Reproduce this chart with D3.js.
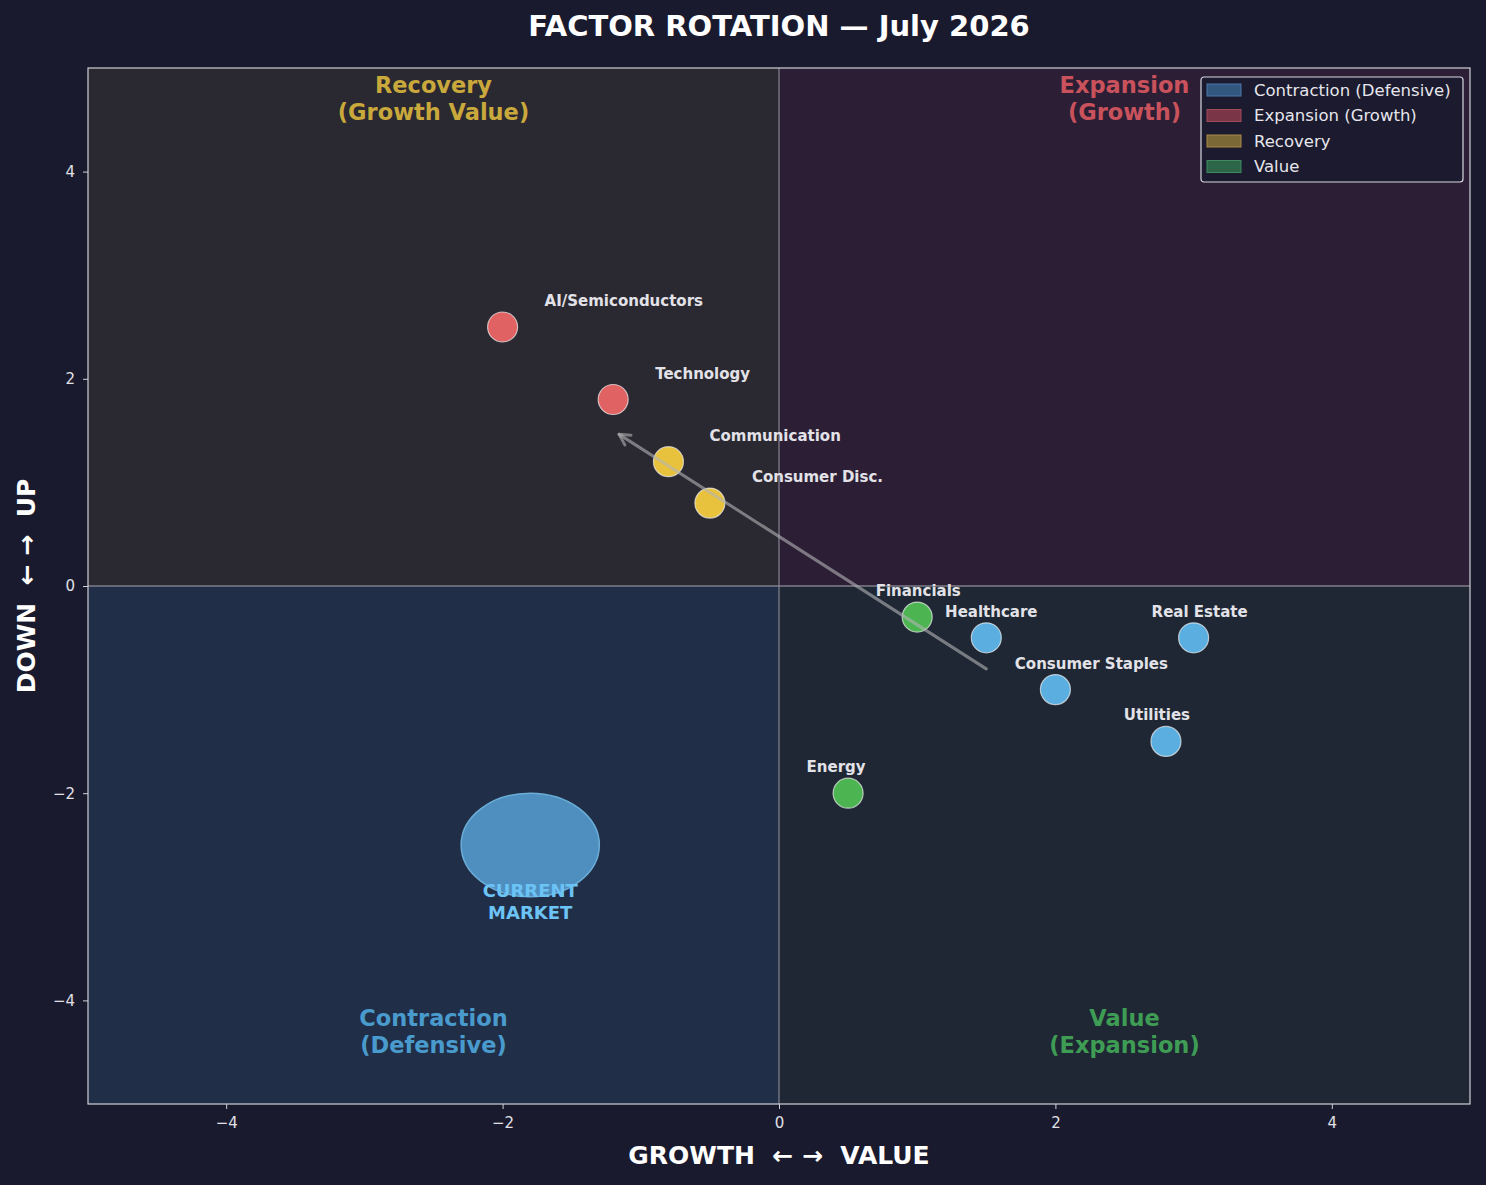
<!DOCTYPE html>
<html>
<head>
<meta charset="utf-8">
<script src="https://cdn.jsdelivr.net/npm/d3@7"></script>
<style>
  body { margin: 0; background: #1a1a2e; }
  svg { display: block; font-family: "DejaVu Sans", sans-serif; }
  .pre { white-space: pre; }
</style>
</head>
<body>
<div id="chart"></div>
<script>
// sector positions on the rotation map
const sectors = ['AI/Semiconductors', 'Technology', 'Communication', 'Consumer Disc.',
  'Financials', 'Healthcare', 'Real Estate', 'Consumer Staples', 'Utilities', 'Energy'];
const growthValue = [-2.0, -1.2, -0.8, -0.5, 1.0, 1.5, 3.0, 2.0, 2.8, 0.5];
const downUp = [2.5, 1.8, 1.2, 0.8, -0.3, -0.5, -0.5, -1.0, -1.5, -2.0];
const sectorGroup = ['Expansion', 'Expansion', 'Recovery', 'Recovery',
  'Value', 'Contraction', 'Contraction', 'Contraction', 'Contraction', 'Value'];

const quadrants = ['Contraction (Defensive)', 'Expansion (Growth)', 'Recovery', 'Value'];
const xTicks = [-4, -2, 0, 2, 4];
const yTicks = [-4, -2, 0, 2, 4];

// current market marker and the rotation arrow
const marketPoint = [-1.8, -2.5];
const rotationFrom = [1.5, -0.8];
const rotationTo = [-1.2, 1.5];

const W = 1486, H = 1185;
const margin = { top: 68, right: 16, bottom: 81, left: 88 };
const w = W - margin.left - margin.right;
const h = H - margin.top - margin.bottom;

const colors = {
  Contraction: '#5aaee0', Expansion: '#e06262', Recovery: '#e8c23c', Value: '#4cb552'
};
// label offsets in px (layout only)
const labelOffset = {
  'AI/Semiconductors': [42, -26, 'start'], 'Technology': [42, -26, 'start'],
  'Communication': [41, -26, 'start'], 'Consumer Disc.': [42, -26, 'start'],
  'Financials': [1, -26, 'middle'], 'Healthcare': [5, -26, 'middle'],
  'Real Estate': [6, -26, 'middle'], 'Consumer Staples': [36, -26, 'middle'],
  'Utilities': [-9, -26, 'middle'], 'Energy': [-12, -26, 'middle']
};

const svg = d3.select('#chart').append('svg').attr('width', W).attr('height', H);
svg.append('rect').attr('width', W).attr('height', H).attr('fill', '#1a1a2e');

const x = d3.scaleLinear().domain([-5, 5]).range([0, w]);
const y = d3.scaleLinear().domain([-5, 5]).range([h, 0]);

const g = svg.append('g').attr('transform', `translate(${margin.left},${margin.top})`);

// quadrant backgrounds
const quadFill = [
  { x0: -5, x1: 0, y0: -5, y1: 0, fill: '#212e47' },
  { x0: 0, x1: 5, y0: 0, y1: 5, fill: '#2c1f35' },
  { x0: -5, x1: 0, y0: 0, y1: 5, fill: '#2a2830' },
  { x0: 0, x1: 5, y0: -5, y1: 0, fill: '#1e2733' }
];
g.selectAll('.quad').data(quadFill).enter().append('rect')
  .attr('x', d => x(d.x0)).attr('y', d => y(d.y1))
  .attr('width', d => x(d.x1) - x(d.x0)).attr('height', d => y(d.y0) - y(d.y1))
  .attr('fill', d => d.fill);

// zero lines
g.append('line').attr('x1', x(0)).attr('x2', x(0)).attr('y1', 0).attr('y2', h)
  .attr('stroke', '#8e8c96').attr('stroke-opacity', 0.85).attr('stroke-width', 1.3);
g.append('line').attr('x1', 0).attr('x2', w).attr('y1', y(0)).attr('y2', y(0))
  .attr('stroke', '#8e8c96').attr('stroke-opacity', 0.85).attr('stroke-width', 1.3);

// quadrant titles
const quadText = [
  { lines: ['Recovery', '(Growth Value)'], cx: -2.5, top: true, color: '#c9a83c' },
  { lines: ['Expansion', '(Growth)'], cx: 2.5, top: true, color: '#c9525c' },
  { lines: ['Contraction', '(Defensive)'], cx: -2.5, top: false, color: '#4a9bcd' },
  { lines: ['Value', '(Expansion)'], cx: 2.5, top: false, color: '#3f9c55' }
];
quadText.forEach(q => {
  const t = g.append('text').attr('x', x(q.cx)).attr('text-anchor', 'middle')
    .attr('fill', q.color).attr('font-size', 22.5).attr('font-weight', 'bold');
  const y0 = q.top ? 25 : h - 78;
  q.lines.forEach((l, i) => t.append('tspan').attr('x', x(q.cx)).attr('y', y0 + i * 27).text(l));
});

// current market
g.append('ellipse').attr('cx', x(marketPoint[0])).attr('cy', y(marketPoint[1]))
  .attr('rx', x(0.5) - x(0)).attr('ry', y(0) - y(0.5))
  .attr('fill', '#4f8fc0').attr('stroke', '#6aaed8').attr('stroke-width', 1.5);
const mt = g.append('text').attr('text-anchor', 'middle').attr('fill', '#6cc3f5')
  .attr('font-size', 18).attr('font-weight', 'bold');
['CURRENT', 'MARKET'].forEach((l, i) =>
  mt.append('tspan').attr('x', x(marketPoint[0])).attr('y', 897 - margin.top + i * 22).text(l));

// sector bubbles
const pts = sectors.map((s, i) => ({ name: s, gx: growthValue[i], du: downUp[i], grp: sectorGroup[i] }));
g.selectAll('.bubble').data(pts).enter().append('circle')
  .attr('class', 'bubble')
  .attr('cx', d => x(d.gx)).attr('cy', d => y(d.du)).attr('r', 15)
  .attr('fill', d => colors[d.grp])
  .attr('stroke', '#f0f0f0').attr('stroke-opacity', 0.7).attr('stroke-width', 1.2);

g.selectAll('.lbl').data(pts).enter().append('text')
  .attr('x', d => x(d.gx) + labelOffset[d.name][0])
  .attr('y', d => y(d.du) + labelOffset[d.name][1] + 5)
  .attr('text-anchor', d => labelOffset[d.name][2])
  .attr('fill', '#e2e2e8').attr('font-size', 15).attr('font-weight', 'bold')
  .text(d => d.name);

// rotation arrow (tip pulled back a little, like a shrunk annotation arrow)
const ax0 = x(rotationFrom[0]), ay0 = y(rotationFrom[1]);
const ang = Math.atan2(y(rotationTo[1]) - ay0, x(rotationTo[0]) - ax0);
const ax1 = x(rotationTo[0]) - 7 * Math.cos(ang), ay1 = y(rotationTo[1]) - 7 * Math.sin(ang);
g.append('line').attr('x1', ax0).attr('y1', ay0).attr('x2', ax1).attr('y2', ay1)
  .attr('stroke', '#b4b4b8').attr('stroke-opacity', 0.6).attr('stroke-width', 3)
  .attr('stroke-linecap', 'round');
const hl = 12, ha = 0.5;
g.append('path')
  .attr('d', `M${ax1 - hl * Math.cos(ang - ha)},${ay1 - hl * Math.sin(ang - ha)} L${ax1},${ay1} L${ax1 - hl * Math.cos(ang + ha)},${ay1 - hl * Math.sin(ang + ha)}`)
  .attr('fill', 'none').attr('stroke', '#b4b4b8').attr('stroke-opacity', 0.6)
  .attr('stroke-width', 3).attr('stroke-linecap', 'round').attr('stroke-linejoin', 'round');

// frame
g.append('rect').attr('width', w).attr('height', h).attr('fill', 'none')
  .attr('stroke', '#d0d0d8').attr('stroke-width', 1.2);

// axes
const fmt = d => d < 0 ? '\u2212' + Math.abs(d) : String(d);
const xAxis = g.append('g').attr('transform', `translate(0,${h})`)
  .call(d3.axisBottom(x).tickValues(xTicks).tickFormat(fmt).tickSize(5).tickPadding(8));
const yAxis = g.append('g')
  .call(d3.axisLeft(y).tickValues(yTicks).tickFormat(fmt).tickSize(5).tickPadding(8));
[xAxis, yAxis].forEach(a => {
  a.attr('font-size', 15).attr('font-family', '"DejaVu Sans", sans-serif');
  a.select('.domain').remove();
  a.selectAll('line').attr('stroke', '#d0d0d8');
  a.selectAll('text').attr('fill', '#e0e0e6');
});

// axis titles and chart title
svg.append('text').attr('class', 'pre').attr('x', margin.left + w / 2).attr('y', 1164)
  .attr('text-anchor', 'middle')
  .attr('fill', '#ffffff').attr('font-size', 25).attr('font-weight', 'bold')
  .text('GROWTH  \u2190 \u2192  VALUE');
svg.append('text').attr('class', 'pre').attr('transform', `translate(35,${margin.top + h / 2}) rotate(-90)`)
  .attr('text-anchor', 'middle')
  .attr('fill', '#ffffff').attr('font-size', 25).attr('font-weight', 'bold')
  .text('DOWN  \u2190 \u2192  UP');
svg.append('text').attr('x', margin.left + w / 2).attr('y', 36).attr('text-anchor', 'middle')
  .attr('fill', '#ffffff').attr('font-size', 29).attr('font-weight', 'bold')
  .text('FACTOR ROTATION \u2014 July 2026');

// legend
const legendFill = ['#33587f', '#7a3546', '#7a6836', '#2d6548'];
const legendStroke = ['#4a78a8', '#a04a5c', '#a88c46', '#3f8a60'];
const lg = svg.append('g').attr('transform', 'translate(1201,77)');
lg.append('rect').attr('width', 262).attr('height', 105).attr('rx', 3)
  .attr('fill', '#1a1a2e').attr('fill-opacity', 0.9)
  .attr('stroke', '#d8d8e0').attr('stroke-width', 1.2);
quadrants.forEach((q, i) => {
  const row = lg.append('g').attr('transform', `translate(0,${13 + i * 25.5})`);
  row.append('rect').attr('x', 6).attr('y', -6).attr('width', 34).attr('height', 12)
    .attr('fill', legendFill[i]).attr('stroke', legendStroke[i]).attr('stroke-width', 1);
  row.append('text').attr('x', 53).attr('y', 5.5).attr('fill', '#e6e6ec')
    .attr('font-size', 16.5).text(q);
});
</script>
</body>
</html>
